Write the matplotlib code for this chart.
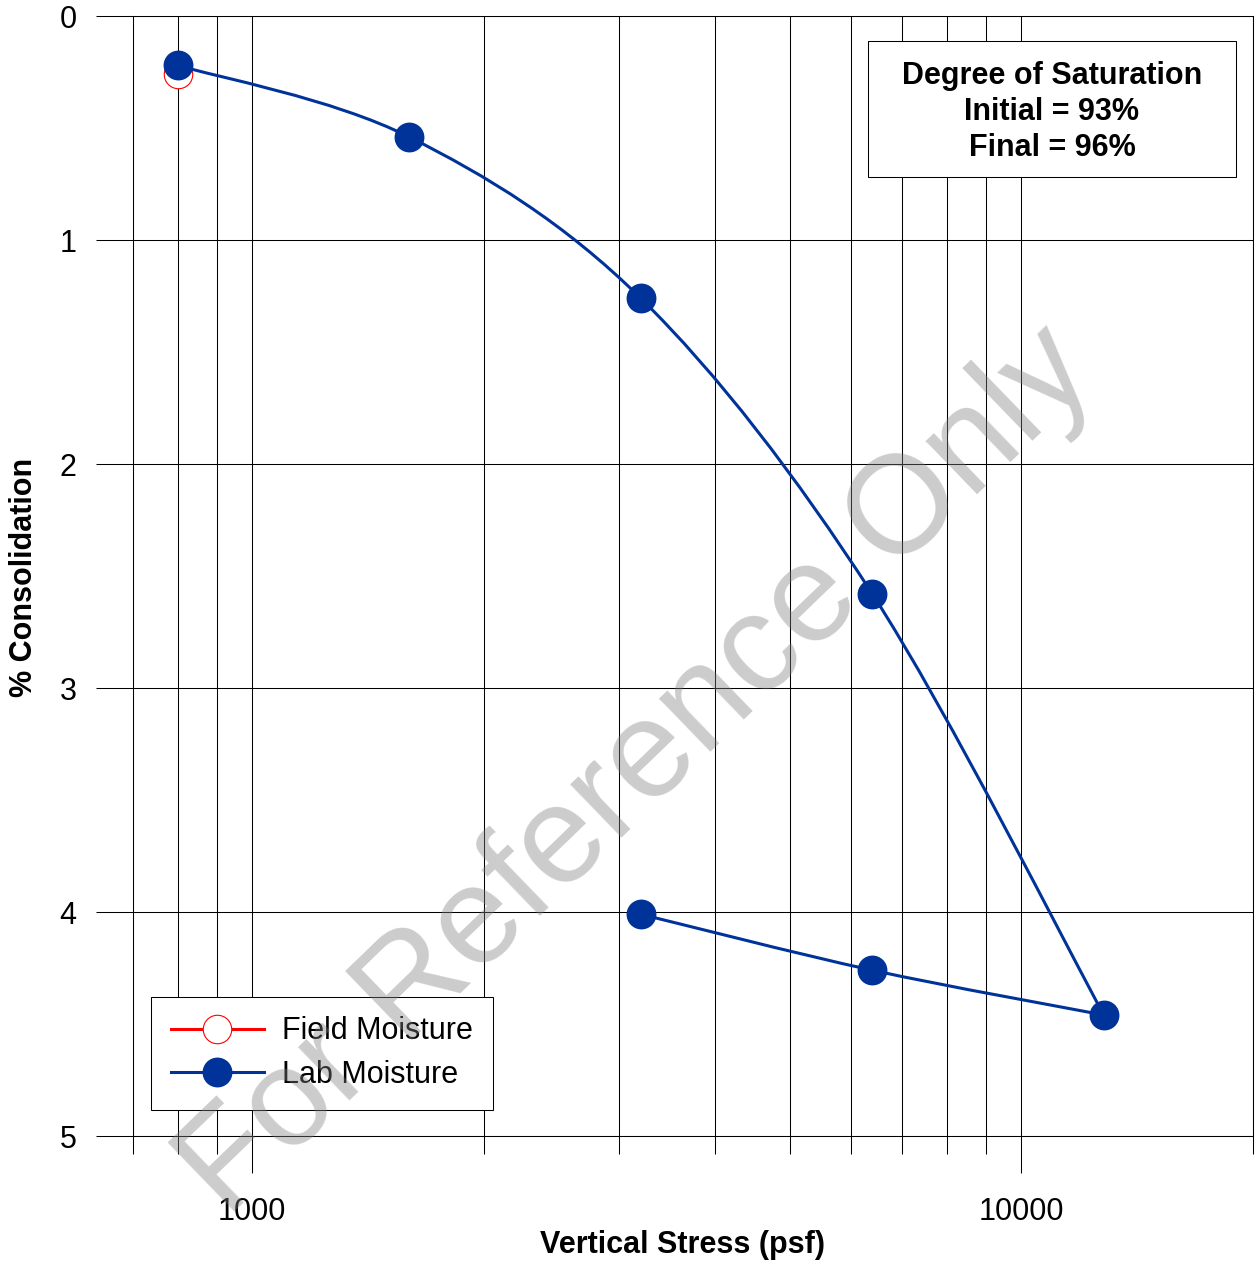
import numpy as np
import matplotlib
matplotlib.use('Agg')
import matplotlib.pyplot as plt
from matplotlib.path import Path
from matplotlib.patches import PathPatch, Rectangle
from matplotlib.lines import Line2D
from matplotlib.ticker import FixedLocator, FixedFormatter, NullFormatter

plt.rcParams['font.family'] = ['Liberation Sans', 'DejaVu Sans']

# ---------------- data ----------------
load_stress = [800, 1600, 3200, 6400, 12800]
load_consol = [0.22, 0.54, 1.26, 2.58, 4.46]
rebound_stress = [12800, 6400, 3200]
rebound_consol = [4.46, 4.26, 4.01]
lab_stress = [800, 1600, 3200, 6400, 12800, 6400, 3200]
lab_consol = [0.22, 0.54, 1.26, 2.58, 4.46, 4.26, 4.01]
field_stress = [800]
field_consol = [0.26]

x_major_ticks = [1000, 10000]
x_major_labels = ['1000', '10000']
x_minor_ticks = [700, 800, 900, 2000, 3000, 4000, 5000, 6000, 7000, 8000, 9000, 20000]
y_ticks = [0, 1, 2, 3, 4, 5]
y_labels = ['0', '1', '2', '3', '4', '5']
series_names = ['Field Moisture', 'Lab Moisture']
sat_lines = ['Degree of Saturation', 'Initial = 93%', 'Final = 96%']
x_title = 'Vertical Stress (psf)'
y_title = '% Consolidation'
watermark = 'For Reference Only'

BLUE = '#003399'
RED = '#FF0000'


def smooth_path(xs, ys):
    """Catmull-Rom style Bezier through points, computed in log-x space."""
    P = np.column_stack([np.log10(xs), np.asarray(ys, float)])
    n = len(P)
    verts = [P[0]]
    codes = [Path.MOVETO]
    for i in range(n - 1):
        p0 = P[i - 1] if i > 0 else P[i]
        p1 = P[i]
        p2 = P[i + 1]
        p3 = P[i + 2] if i + 2 < n else P[i + 1]
        c1 = p1 + (p2 - p0) / 6.0
        c2 = p2 - (p3 - p1) / 6.0
        verts += [c1, c2, p2]
        codes += [Path.CURVE4] * 3
    V = np.array(verts)
    V[:, 0] = 10 ** V[:, 0]
    return Path(V, codes)


W, H = 1255, 1266
fig = plt.figure(figsize=(W / 100, H / 100), dpi=100)
ax = fig.add_axes([133 / W, 1 - 1136 / H, (1253 - 133) / W, (1136 - 16) / H])

ax.set_xscale('log')
ax.set_xlim(700, 20000)
ax.set_ylim(5, 0)

# ticks
ax.xaxis.set_major_locator(FixedLocator(x_major_ticks))
ax.xaxis.set_major_formatter(FixedFormatter(x_major_labels))
ax.xaxis.set_minor_locator(FixedLocator(x_minor_ticks))
ax.xaxis.set_minor_formatter(NullFormatter())
ax.yaxis.set_major_locator(FixedLocator(y_ticks))
ax.yaxis.set_major_formatter(FixedFormatter(y_labels))

ax.tick_params(axis='x', which='major', direction='out', length=26.6, width=0.75,
               labelsize=22, pad=17, color='black')
ax.tick_params(axis='x', which='minor', direction='out', length=13, width=0.75, color='black')
ax.tick_params(axis='y', which='major', direction='out', length=26.6, width=0.75,
               labelsize=22, pad=14, color='black')
ax.tick_params(axis='y', which='minor', length=0)

ax.grid(True, axis='x', which='both', color='black', linewidth=0.75)
ax.grid(True, axis='y', which='major', color='black', linewidth=0.75)
ax.set_axisbelow(True)
for s in ax.spines.values():
    s.set_linewidth(0.75)
    s.set_color('black')

# series
ax.plot(field_stress, field_consol, color=RED, linewidth=2.2, marker='o', markersize=20.5,
        markerfacecolor='white', markeredgecolor=RED, markeredgewidth=0.8, zorder=3)

ax.add_patch(PathPatch(smooth_path(load_stress, load_consol), facecolor='none',
                       edgecolor=BLUE, linewidth=2.2, zorder=4))
ax.add_patch(PathPatch(smooth_path(rebound_stress, rebound_consol), facecolor='none',
                       edgecolor=BLUE, linewidth=2.2, zorder=4))
ax.plot(lab_stress, lab_consol, linestyle='none', marker='o', markersize=20.5,
        markerfacecolor=BLUE, markeredgecolor=BLUE, zorder=5)

# legend
h_field = Line2D([], [], color=RED, linewidth=2.2, marker='o', markersize=20.5,
                 markerfacecolor='white', markeredgecolor=RED, markeredgewidth=0.8)
h_lab = Line2D([], [], color=BLUE, linewidth=2.2, marker='o', markersize=20.5,
               markerfacecolor=BLUE, markeredgecolor=BLUE)
leg = ax.legend([h_field, h_lab], series_names, loc='lower left',
                bbox_to_anchor=((151 - 133) / 1120, (1136 - 1110) / 1120),
                borderaxespad=0, fontsize=22, handlelength=3.05, handletextpad=0.6,
                borderpad=0.65, labelspacing=0.45, fancybox=False, framealpha=1,
                edgecolor='black')
leg.get_frame().set_linewidth(0.75)
leg.set_zorder(6)

# saturation box
ax.add_patch(Rectangle(((868 - 133) / 1120, (1136 - 177) / 1120), 368 / 1120, 136 / 1120,
                       transform=ax.transAxes, facecolor='white', edgecolor='black',
                       linewidth=0.75, zorder=6))
ax.text((1052 - 133) / 1120, (1136 - 112) / 1120, '\n'.join(sat_lines), transform=ax.transAxes,
        ha='center', va='center', fontsize=22, fontweight='bold', linespacing=1.25, zorder=7)

# axis titles
fig.text(683 / W, 1 - 1245 / H, x_title, ha='center', va='center', fontsize=22, fontweight='bold')
fig.text(24.5 / W, 1 - 577 / H, y_title, ha='center', va='center', fontsize=22,
         fontweight='bold', rotation=90)

# watermark
fig.text(638 / W, 1 - 772 / H, watermark, ha='center', va='center', fontsize=100,
         color='gray', alpha=0.4, rotation=44, rotation_mode='anchor', zorder=10)

fig.savefig('out.png', dpi=100)
